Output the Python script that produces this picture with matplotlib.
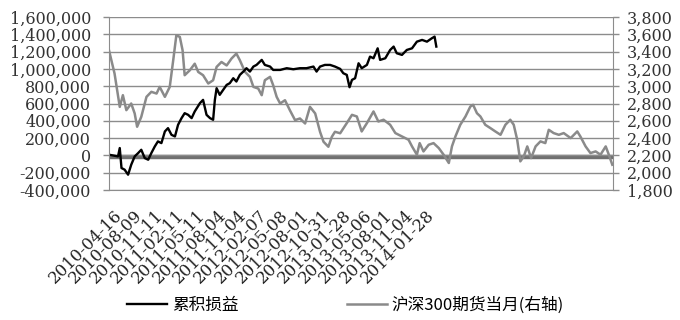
import matplotlib
matplotlib.use("Agg")
from matplotlib import pyplot as plt
from matplotlib.ticker import FuncFormatter

# 累积损益 (left axis), x = trading-day index from 2010-04-16
pnl_idx = [0, 16, 26, 31, 36, 45, 55, 64, 74, 84, 93, 103, 113, 122, 132, 141, 151, 161,
           170, 180, 190, 199, 209, 218, 228, 238, 247, 262, 271, 281, 291, 300, 305, 310,
           319, 329, 339, 348, 358, 367, 377, 387, 396, 406, 416, 425, 440, 449, 464, 473,
           493, 512, 531, 550, 569, 589, 598, 608, 622, 637, 651, 666, 675, 685, 693, 700,
           709, 719, 728, 743, 752, 762, 774, 781, 796, 810, 820, 829, 844, 858, 873, 887,
           902, 916, 930, 938, 943]
pnl_val = [8, -4, -12, 85, -146, -165, -223, -108, -12, 27, 65, -31, -50, 27, 104, 162, 142, 277,
           315, 238, 219, 354, 431, 488, 469, 431, 508, 604, 642, 469, 431, 412, 642, 777,
           700, 758, 815, 835, 892, 854, 931, 969, 1008, 969, 1027, 1046, 1104, 1046, 1027, 988,
           988, 1008, 996, 1008, 1008, 1027, 969, 1027, 1046, 1046, 1027, 1000, 950, 931, 788, 873,
           892, 1065, 1008, 1046, 1142, 1123, 1238, 1104, 1123, 1219, 1258, 1181, 1162, 1219, 1238, 1315,
           1335, 1315, 1354, 1373, 1258]
pnl_val = [v * 1000 for v in pnl_val]

# 沪深300期货当月 (right axis)
hs_idx = [0, 16, 31, 40, 50, 64, 74, 81, 93, 108, 122, 137, 146, 161, 175, 185, 194, 204,
          212, 218, 233, 247, 257, 271, 286, 300, 310, 324, 339, 353, 367, 377, 392, 406,
          416, 430, 440, 449, 464, 473, 483, 493, 507, 521, 536, 550, 565, 579, 594, 608,
          618, 632, 642, 651, 666, 685, 700, 714, 728, 743, 762, 776, 791, 810, 825, 844,
          863, 873, 887, 895, 906, 921, 935, 950, 964, 979, 988, 998, 1012, 1027, 1041, 1049,
          1060, 1070, 1084, 1099, 1113, 1128, 1142, 1156, 1166, 1176, 1185, 1195, 1205, 1216,
          1229, 1243, 1257, 1267, 1281, 1296, 1310, 1330, 1349, 1358, 1373, 1387, 1402, 1416,
          1431, 1440, 1450]
hs_val = [3415, 3146, 2761, 2896, 2723, 2800, 2685, 2531, 2646, 2877, 2935, 2915, 2992, 2877, 2992, 3300, 3588, 3570,
          3415, 3127, 3185, 3260, 3165, 3127, 3031, 3069, 3223, 3280, 3240, 3320, 3377, 3300, 3165, 3108,
          2992, 2973, 2896, 3069, 3108, 3011, 2877, 2800, 2838, 2723, 2608, 2627, 2569, 2761, 2685, 2473,
          2358, 2300, 2415, 2473, 2456, 2573, 2669, 2650, 2477, 2573, 2708, 2592, 2612, 2554, 2458, 2419,
          2381, 2304, 2208, 2342, 2246, 2323, 2342, 2285, 2208, 2112, 2304, 2419, 2554, 2650, 2765, 2785,
          2688, 2650, 2554, 2515, 2477, 2438, 2554, 2612, 2554, 2381, 2131, 2188, 2304, 2169,
          2304, 2362, 2342, 2496, 2458, 2438, 2458, 2400, 2477, 2419, 2304, 2227, 2246, 2208,
          2304, 2208, 2092]

tick_labels = ['2010-04-16', '2010-08-09', '2010-11-11', '2011-02-11', '2011-05-11', '2011-08-04',
               '2011-11-04', '2012-02-07', '2012-05-08', '2012-08-01', '2012-10-31', '2013-01-28',
               '2013-05-06', '2013-08-01', '2013-11-04', '2014-01-28']
tick_idx = [12 + 60 * i for i in range(len(tick_labels))]

plt.rcParams['font.family'] = 'serif'
plt.rcParams['font.serif'] = ['DejaVu Serif']
grid_c = '#8c8c8c'

fig = plt.figure(figsize=(6.8, 3.2), dpi=100)
ax = fig.add_axes([109 / 680, 1 - 190 / 320, 504 / 680, 173 / 320])
ax2 = ax.twinx()
ax.set_zorder(ax2.get_zorder() + 1)
ax.patch.set_visible(False)

ax2.set_ylim(1800, 3800)
ax2.set_yticks(range(1800, 3801, 200))
ax2.grid(axis='y', color=grid_c, lw=1)
ax2.axhline(2186, color='#707070', lw=3.2, zorder=1.5)
ax2.plot(hs_idx, hs_val, color='#8a8a8a', lw=1.8, label='沪深300期货当月(右轴)')

ax.plot(pnl_idx, pnl_val, color='black', lw=1.7, label='累积损益')
ax.set_ylim(-400000, 1600000)
ax.set_yticks(range(-400000, 1600001, 200000))
ax.yaxis.set_major_formatter(FuncFormatter(lambda v, p: '{:,.0f}'.format(v)))
ax2.yaxis.set_major_formatter(FuncFormatter(lambda v, p: '{:,.0f}'.format(v)))
ax.set_xlim(0, 1452)
ax.set_xticks(tick_idx)
ax.set_xticklabels(tick_labels, rotation=45, ha='right', rotation_mode='anchor',
                   fontsize=12, family='DejaVu Serif', color='#222222')
ax.tick_params(axis='x', length=0, pad=12)

for a in (ax, ax2):
    a.tick_params(axis='y', labelsize=11.5, colors='#333333', length=4, width=1)
    a.tick_params(axis='y', color=grid_c)
    for s in a.spines.values():
        s.set_visible(False)
ax.tick_params(axis='y', pad=9)
ax2.tick_params(axis='y', pad=6)
ax.spines['left'].set_visible(True)
ax.spines['left'].set_color(grid_c)
ax2.spines['right'].set_visible(True)
ax2.spines['right'].set_color(grid_c)
ax2.spines['bottom'].set_visible(True)
ax2.spines['bottom'].set_color(grid_c)

h1, l1 = ax.get_legend_handles_labels()
h2, l2 = ax2.get_legend_handles_labels()
fig.legend(h1 + h2, l1 + l2, loc='center', bbox_to_anchor=(0.508, 0.045), ncol=2, frameon=False,
           prop={'family': ['Noto Sans CJK SC', 'DejaVu Sans'], 'size': 12},
           handlelength=2.4, columnspacing=6.5, handletextpad=0.3)

fig.savefig('out.png', dpi=100)
